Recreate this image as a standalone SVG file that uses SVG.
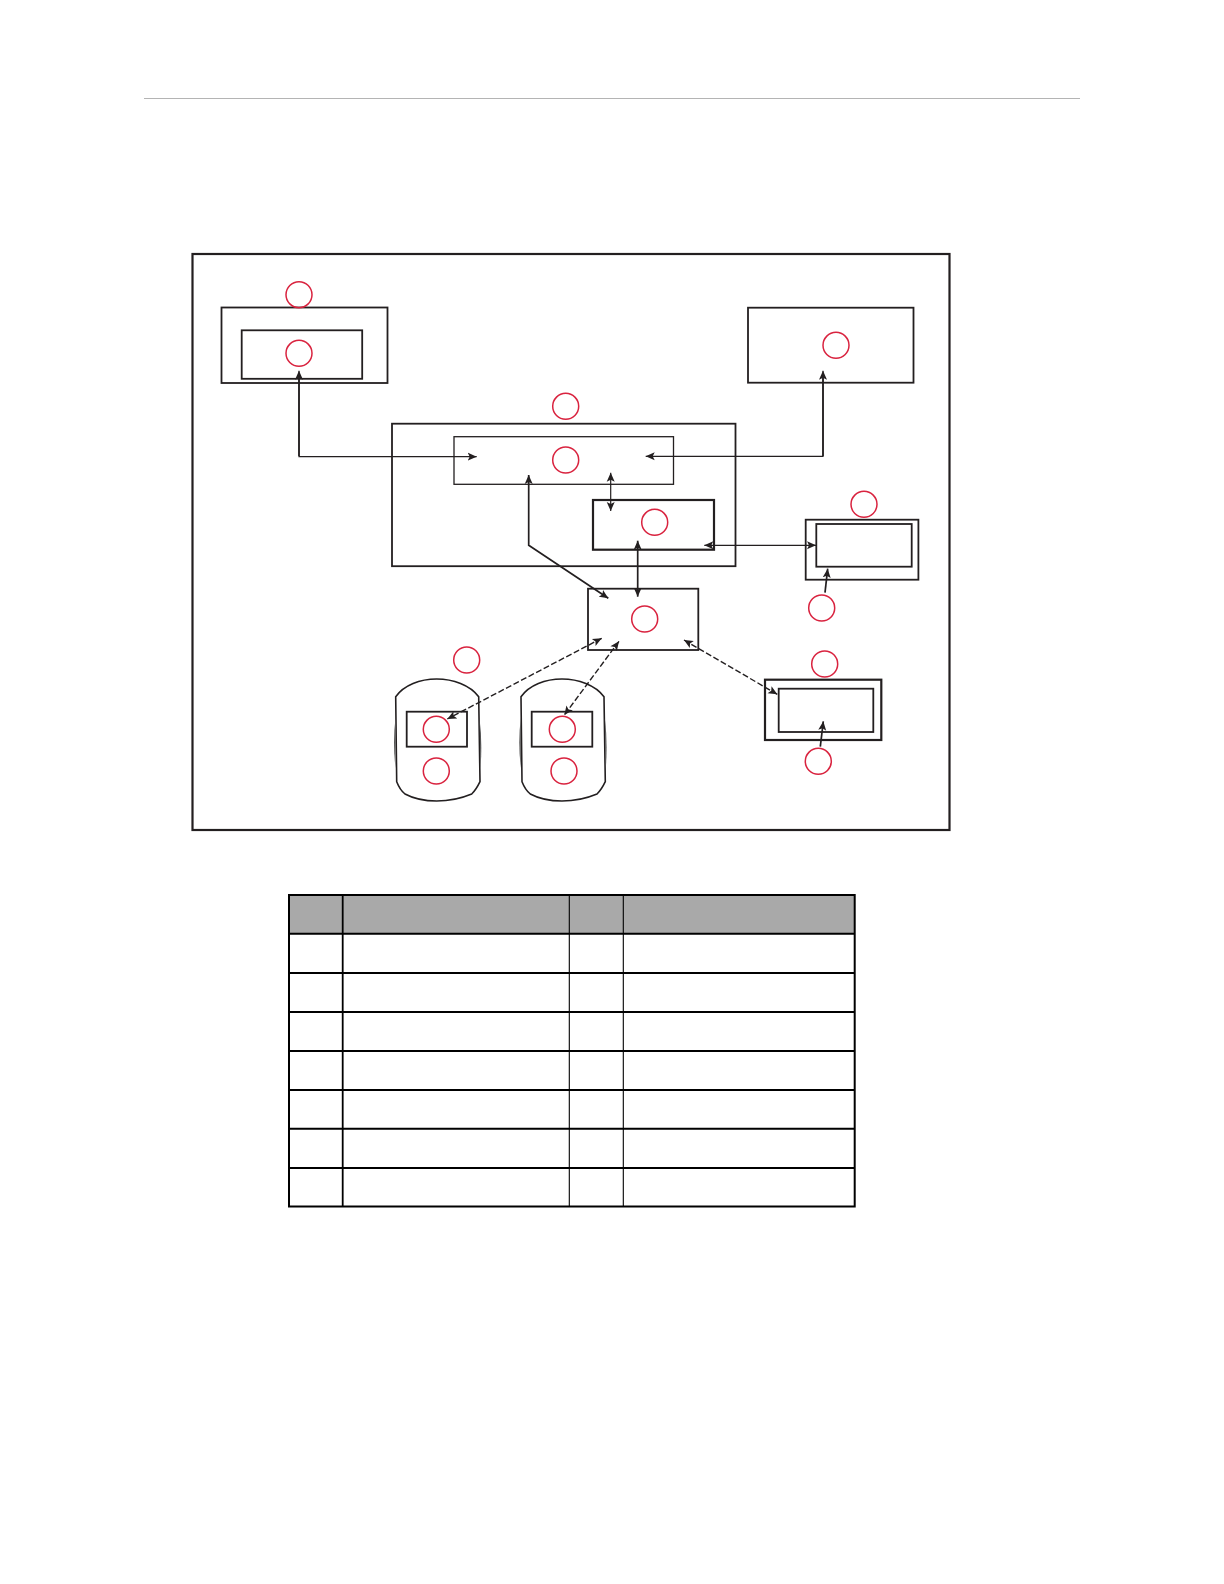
<svg xmlns="http://www.w3.org/2000/svg" width="1224" height="1584" viewBox="0 0 1224 1584">
<style>
.b{fill:none;stroke:#231f20}
.w1{stroke-width:1.3}.w2{stroke-width:1.8}.w3{stroke-width:2.2}
.c{fill:none;stroke:#d9233f;stroke-width:1.5}
.a{fill:none;stroke:#231f20;stroke-width:1.2;marker-end:url(#h)}
.t{stroke-width:1.7}
.ab{marker-start:url(#hs)}
.d{stroke-dasharray:6 2.5;stroke-width:1.4}
.g{stroke:#000;fill:none}
</style>
<defs>
<marker id="h" markerUnits="userSpaceOnUse" markerWidth="11" markerHeight="9" refX="9" refY="4.500" orient="auto"><path d="M0 0.500L9 4.500L0 8.500L2 4.500Z" fill="#231f20"/></marker>
<marker id="hs" markerUnits="userSpaceOnUse" markerWidth="11" markerHeight="9" refX="0" refY="4.500" orient="auto"><path d="M9 0.500L0 4.500L9 8.500L7 4.500Z" fill="#231f20"/></marker>
<g id="robot"><path d="M395.700 696.700C404 685 420 679 436.700 679C453 679 470 685 478.700 696.700L480 781.700Q476 790 471.700 794Q455 801 436.700 801Q418 801 405 794Q400 790 396.700 781.700Z" fill="none" stroke="#231f20" stroke-width="1.600"/><path d="M395.500 718Q392.500 742 395.500 768Z" fill="#555"/><path d="M479.500 718Q482.500 742 480.500 768Z" fill="#555"/></g>
</defs>
<rect width="1224" height="1584" fill="#fff"/>
<line x1="144" y1="98.500" x2="1080" y2="98.500" stroke="#b4b4b4" stroke-width="1"/>
<g id="frame"><rect class="b w3" x="192.500" y="254" width="757" height="576"/></g>
<g id="node-a"><rect class="b w2" x="221.500" y="307.500" width="166" height="75.500"/><rect class="b w2" x="241.700" y="330.300" width="120.500" height="48.500"/><circle class="c" cx="299" cy="294.700" r="13"/><circle class="c" cx="299" cy="353.300" r="13"/></g>
<g id="node-b"><rect class="b w2" x="748" y="307.700" width="165.500" height="75"/><circle class="c" cx="836" cy="345.300" r="13"/></g>
<g id="node-c"><rect class="b w2" x="392" y="423.700" width="343.500" height="142.500"/><circle class="c" cx="565.700" cy="406.300" r="13"/></g>
<g id="node-d"><rect class="b w1" x="454" y="436.700" width="219.500" height="47.600"/><circle class="c" cx="565.700" cy="460" r="13"/></g>
<g id="node-e"><rect class="b w3" x="593" y="500" width="121" height="49.700"/><circle class="c" cx="654.700" cy="522.300" r="13"/></g>
<g id="node-f"><rect class="b w2" x="805.700" y="519.700" width="112.700" height="60"/><rect class="b w2" x="816.300" y="524" width="95.400" height="42.700"/><circle class="c" cx="864" cy="504.300" r="13"/><circle class="c" cx="821.700" cy="608" r="13"/></g>
<g id="node-g"><rect class="b w2" x="588" y="588.700" width="110.300" height="61.300"/><circle class="c" cx="644.700" cy="619" r="13"/></g>
<g id="node-h"><rect class="b w3" x="765" y="679.700" width="116.300" height="60.300"/><rect class="b w2" x="778.700" y="688.700" width="94.600" height="43.300"/><circle class="c" cx="824.700" cy="664" r="13"/><circle class="c" cx="818.300" cy="761.300" r="13"/></g>
<g id="robot-1"><use href="#robot"/><rect class="b w2" x="406.700" y="711.700" width="60.300" height="35"/><circle class="c" cx="436.300" cy="729.300" r="13"/><circle class="c" cx="436.300" cy="771" r="13"/><circle class="c" cx="466.700" cy="660" r="13"/></g>
<g id="robot-2"><use href="#robot" x="125.300"/><rect class="b w2" x="531.700" y="711.700" width="60.600" height="35"/><circle class="c" cx="562.300" cy="729.300" r="13"/><circle class="c" cx="564" cy="771" r="13"/></g>
<g id="connectors">
<path class="a ab" d="M299 370.700V456.700H476.700"/>
<path class="a ab" d="M823 370.700V456.300H645.700"/>
<line class="t" stroke="#231f20" x1="299" y1="378" x2="299" y2="456"/>
<line class="t" stroke="#231f20" x1="823" y1="378" x2="823" y2="456"/>
<path class="a ab t" d="M528.700 475V545.300L608.300 598.300"/>
<line class="a ab" x1="610.700" y1="472.700" x2="610.700" y2="511"/>
<line class="a ab t" x1="637.700" y1="540.700" x2="637.700" y2="596.700"/>
<line class="a ab" x1="704.300" y1="545.300" x2="816" y2="545.300"/>
<line class="a t" x1="825" y1="592.700" x2="827.700" y2="568.700"/>
<line class="a t" x1="820.300" y1="746.700" x2="823.300" y2="721.300"/>
<line class="a ab d" x1="601.700" y1="638.300" x2="447.300" y2="719"/>
<line class="a ab d" x1="619" y1="641.300" x2="564.300" y2="715"/>
<line class="a ab d" x1="684" y1="640" x2="777.300" y2="694.300"/>
</g>
<g id="table">
<rect x="289" y="895" width="565.700" height="39" fill="#a9a9a9"/>
<rect class="g" stroke-width="2" x="289" y="895" width="565.700" height="311.500"/>
<path class="g" stroke-width="2" d="M289 933.700H854.700M289 973H854.700M289 1012H854.700M289 1051H854.700M289 1090H854.700M289 1128.700H854.700M289 1168H854.700"/>
<path class="g" stroke-width="1.800" d="M342.700 895V1206.500"/>
<path class="g" stroke-width="1.100" d="M569.300 895V1206.500M623.300 895V1206.500"/>
</g>
</svg>
